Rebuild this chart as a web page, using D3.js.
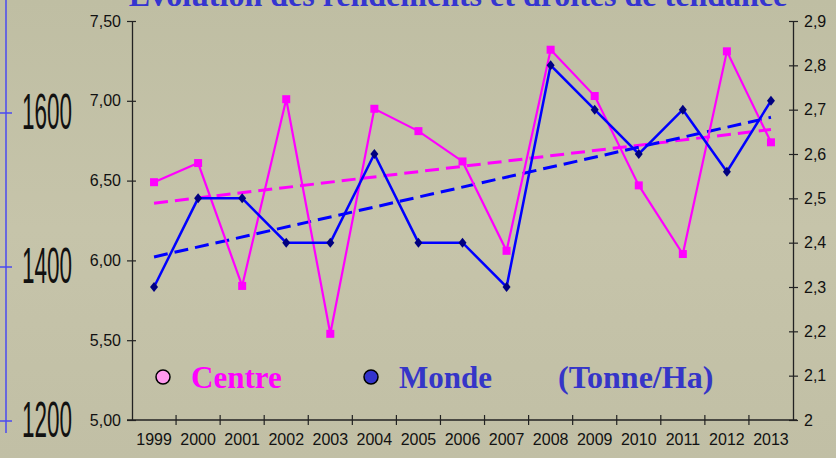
<!DOCTYPE html>
<html>
<head>
<meta charset="utf-8">
<script src="https://cdn.jsdelivr.net/npm/d3@7"></script>
<style>
  html, body { margin: 0; padding: 0; background: #c3c1a6; }
  svg { display: block; }
</style>
</head>
<body>
<script>
// data
var years = ["1999","2000","2001","2002","2003","2004","2005","2006","2007","2008","2009","2010","2011","2012","2013"];
var centre = [6.49, 6.61, 5.84, 7.01, 5.54, 6.95, 6.81, 6.62, 6.06, 7.32, 7.03, 6.47, 6.04, 7.31, 6.74];
var monde  = [2.30, 2.50, 2.50, 2.40, 2.40, 2.60, 2.40, 2.40, 2.30, 2.80, 2.70, 2.60, 2.70, 2.56, 2.72];
var leftTicks  = [5.0, 5.5, 6.0, 6.5, 7.0, 7.5];
var rightTicks = [2.0, 2.1, 2.2, 2.3, 2.4, 2.5, 2.6, 2.7, 2.8, 2.9];
var ghostTicks = [1200, 1400, 1600];   // leftover axis on the slide

var W = 836, H = 458;
var svg = d3.select('body').append('svg').attr('width', W).attr('height', H);

// background
var grad = svg.append('defs').append('linearGradient').attr('id', 'bg')
  .attr('x1', 0).attr('y1', 0).attr('x2', 0).attr('y2', 1);
grad.append('stop').attr('offset', '0%').attr('stop-color', '#bfbea3');
grad.append('stop').attr('offset', '50%').attr('stop-color', '#c6c4aa');
grad.append('stop').attr('offset', '100%').attr('stop-color', '#c1bfa5');
svg.append('rect').attr('width', W).attr('height', H).attr('fill', 'url(#bg)');

var pLeft = 132, pRight = 793, pTop = 21, pBottom = 420;

var x = d3.scaleBand().domain(years).range([pLeft, pRight]).padding(0);
var yL = d3.scaleLinear().domain([5, 7.5]).range([pBottom, pTop]);
var yR = d3.scaleLinear().domain([2, 2.9]).range([pBottom, pTop]);
var yG = d3.scaleLinear().domain([1200, 1600]).range([421, 113]);

var loc = d3.formatLocale({decimal: ',', thousands: ' ', grouping: [3], currency: ['', '']});
var fmtL = loc.format('.2f');
var fmtR = loc.format('.1~f');

var axisFont = '"Liberation Sans Narrow", "Arial Narrow", "Liberation Sans", sans-serif';

// ghost axis at far left
var g0 = svg.append('g').attr('transform', 'translate(6,0)');
g0.append('line').attr('x1', 0).attr('x2', 0).attr('y1', 0).attr('y2', 433)
  .attr('stroke', '#4a4af0').attr('stroke-width', 1.5);
g0.selectAll('line.t').data(ghostTicks).enter().append('line').attr('class', 't')
  .attr('x1', -6).attr('x2', 6).attr('y1', yG).attr('y2', yG)
  .attr('stroke', '#4a4af0').attr('stroke-width', 1.5);
g0.selectAll('text').data(ghostTicks).enter().append('text')
  .attr('transform', function (d) { return 'translate(16,' + (yG(d) + 16) + ') scale(0.45,1)'; })
  .attr('font-family', axisFont).attr('font-size', 50).attr('fill', '#111')
  .text(function (d) { return d; });

// left axis
var aL = svg.append('g').attr('transform', 'translate(' + pLeft + ',0)')
  .call(d3.axisLeft(yL).tickValues(leftTicks).tickFormat(fmtL).tickSizeInner(5).tickSizeOuter(0).tickPadding(6));
// right axis
var aR = svg.append('g').attr('transform', 'translate(' + pRight + ',0)')
  .call(d3.axisRight(yR).tickValues(rightTicks).tickFormat(fmtR).tickSizeInner(5).tickSizeOuter(0).tickPadding(6));
// bottom axis
var aB = svg.append('g').attr('transform', 'translate(0,' + pBottom + ')')
  .call(d3.axisBottom(x).tickSizeInner(0).tickSizeOuter(0).tickPadding(22));

[aL, aR, aB].forEach(function (a) {
  a.select('.domain').attr('stroke', '#222').attr('stroke-width', 1.3);
  a.selectAll('.tick line').attr('stroke', '#222').attr('stroke-width', 1.2);
  a.selectAll('text').attr('font-family', axisFont).attr('font-size', 16).attr('fill', '#111');
});
// ticks crossing both sides
aL.selectAll('.tick line').attr('x1', 4).attr('x2', -5);
aR.selectAll('.tick line').attr('x1', -4).attr('x2', 5);
aB.select('.domain').attr('d', 'M' + (pLeft - 5) + ',0H' + (pRight + 4));
// year separator ticks
aB.selectAll('line.sep').data(years.slice(1)).enter().append('line').attr('class', 'sep')
  .attr('x1', function (d) { return x(d); }).attr('x2', function (d) { return x(d); })
  .attr('y1', -5).attr('y2', 5).attr('stroke', '#222').attr('stroke-width', 1.2);
aB.selectAll('.tick text').attr('dy', '0.2em');

// trend lines (least squares)
function trend(vals) {
  var n = vals.length, mx = (n - 1) / 2, my = d3.mean(vals), sxy = 0, sxx = 0;
  vals.forEach(function (v, i) { sxy += (i - mx) * (v - my); sxx += (i - mx) * (i - mx); });
  var b = sxy / sxx, a = my - b * mx;
  return [a, a + b * (n - 1)];
}
var cx = function (i) { return x(years[i]) + x.bandwidth() / 2; };

var tC = trend(centre), tM = trend(monde);
svg.append('line').attr('x1', cx(0)).attr('x2', cx(years.length - 1))
  .attr('y1', yL(tC[0])).attr('y2', yL(tC[1]))
  .attr('stroke', '#ff00ff').attr('stroke-width', 3).attr('stroke-dasharray', '14,7');
svg.append('line').attr('x1', cx(0)).attr('x2', cx(years.length - 1))
  .attr('y1', yR(tM[0])).attr('y2', yR(tM[1]))
  .attr('stroke', '#0000ff').attr('stroke-width', 3).attr('stroke-dasharray', '14,7');

// centre series
svg.append('path').datum(centre)
  .attr('d', d3.line().x(function (d, i) { return cx(i); }).y(function (d) { return yL(d); }))
  .attr('fill', 'none').attr('stroke', '#ff00ff').attr('stroke-width', 2.2);
svg.selectAll('rect.c').data(centre).enter().append('rect').attr('class', 'c')
  .attr('x', function (d, i) { return cx(i) - 4; }).attr('y', function (d) { return yL(d) - 4; })
  .attr('width', 8).attr('height', 8).attr('fill', '#ff00ff');

// monde series
svg.append('path').datum(monde)
  .attr('d', d3.line().x(function (d, i) { return cx(i); }).y(function (d) { return yR(d); }))
  .attr('fill', 'none').attr('stroke', '#0000ff').attr('stroke-width', 2.5);
svg.selectAll('path.m').data(monde).enter().append('path').attr('class', 'm')
  .attr('transform', function (d, i) { return 'translate(' + cx(i) + ',' + yR(d) + ')'; })
  .attr('d', 'M0,-5L4,0L0,5L-4,0Z').attr('fill', '#000080');

// title (cut off at top)
svg.append('text').attr('x', 458).attr('y', 6).attr('text-anchor', 'middle')
  .attr('font-family', '"Liberation Serif", "Times New Roman", serif').attr('font-weight', 'bold')
  .attr('font-size', 32).attr('fill', '#3535d0')
  .text('Evolution des rendements et droites de tendance');

// legend
var serif = '"Liberation Serif", "Times New Roman", serif';
var lg = svg.append('g');
lg.append('circle').attr('cx', 163).attr('cy', 377).attr('r', 7)
  .attr('fill', '#ff99ee').attr('stroke', '#000').attr('stroke-width', 1.5);
lg.append('text').attr('x', 191).attr('y', 388).attr('font-family', serif).attr('font-weight', 'bold')
  .attr('font-size', 31).attr('fill', '#ff00ff').text('Centre');
lg.append('circle').attr('cx', 371).attr('cy', 377).attr('r', 7)
  .attr('fill', '#3333cc').attr('stroke', '#000').attr('stroke-width', 1.5);
lg.append('text').attr('x', 399).attr('y', 388).attr('font-family', serif).attr('font-weight', 'bold')
  .attr('font-size', 31).attr('fill', '#3535c8').text('Monde');
lg.append('text').attr('x', 558).attr('y', 388).attr('font-family', serif).attr('font-weight', 'bold')
  .attr('font-size', 32).attr('fill', '#3535c8').text('(Tonne/Ha)');
</script>
</body>
</html>
